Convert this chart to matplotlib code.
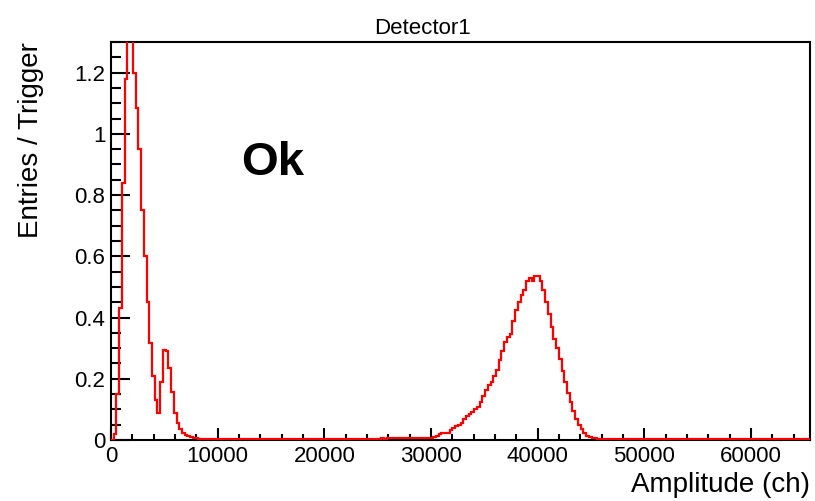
import numpy as np
import matplotlib
matplotlib.use('Agg')
import matplotlib.pyplot as plt
from matplotlib.ticker import MultipleLocator, FuncFormatter

plt.rcParams['font.family'] = ['Liberation Sans', 'DejaVu Sans']

# histogram: 256 bins of 256 channels over 0..65536
bin_width = 256
n_bins = 256

# bins 0-35: pedestal peak + small bump near 5000 ch
left_bins = [0.0, 0.02, 0.15, 0.43, 0.84, 1.18, 1.36, 1.34, 1.2, 1.085,
             0.95, 0.75, 0.6, 0.45, 0.316, 0.21, 0.13, 0.087, 0.19, 0.295,
             0.29, 0.234, 0.158, 0.088, 0.055, 0.035, 0.022, 0.016, 0.012, 0.009,
             0.007, 0.005, 0.004, 0.004, 0.003, 0.003]
# bins 36-112: almost empty region
flat_bins = [0.003, 0.003, 0.002, 0.003, 0.002, 0.002, 0.003, 0.002, 0.002, 0.002, 0.003, 0.002,
             0.002, 0.002, 0.003, 0.002, 0.002, 0.002, 0.002, 0.003, 0.002, 0.002, 0.002, 0.002,
             0.002, 0.003, 0.002, 0.002, 0.003, 0.002, 0.002, 0.002, 0.003, 0.003, 0.002, 0.003,
             0.003, 0.002, 0.003, 0.003, 0.003, 0.002, 0.003, 0.003, 0.003, 0.003, 0.002, 0.003,
             0.003, 0.003, 0.003, 0.003, 0.004, 0.003, 0.003, 0.004, 0.003, 0.004, 0.004, 0.004,
             0.004, 0.004, 0.004, 0.005, 0.004, 0.005, 0.005, 0.005, 0.005,
             0.005, 0.005, 0.006, 0.005, 0.006, 0.006, 0.005, 0.005]
# bins 113-180: signal peak around 40000 ch
peak_bins = [0.005, 0.005, 0.006, 0.007, 0.008, 0.01, 0.012, 0.018, 0.022, 0.022,
             0.024, 0.032, 0.038, 0.045, 0.048, 0.056, 0.068, 0.078, 0.085, 0.09,
             0.1, 0.108, 0.125, 0.145, 0.162, 0.178, 0.19, 0.21, 0.23, 0.26,
             0.29, 0.32, 0.335, 0.345, 0.39, 0.425, 0.45, 0.475, 0.49, 0.52,
             0.53, 0.52, 0.535, 0.535, 0.52, 0.49, 0.45, 0.41, 0.37, 0.33,
             0.3, 0.265, 0.225, 0.19, 0.155, 0.125, 0.095, 0.07, 0.05, 0.035,
             0.022, 0.014, 0.01, 0.007, 0.005, 0.004, 0.003, 0.003]
# bins 181-255
tail_bins = [0.003, 0.003, 0.003, 0.002, 0.003, 0.002, 0.002, 0.003, 0.002, 0.002,
             0.002, 0.002, 0.003, 0.002, 0.002, 0.002, 0.002, 0.002, 0.003, 0.002,
             0.002, 0.002, 0.002, 0.002, 0.002, 0.003, 0.002, 0.002, 0.002, 0.002,
             0.002, 0.002, 0.002, 0.002, 0.002, 0.002, 0.002, 0.002, 0.002, 0.002,
             0.002, 0.002, 0.002, 0.002, 0.002, 0.002, 0.002, 0.002, 0.002, 0.002,
             0.002, 0.002, 0.002, 0.002, 0.002, 0.002, 0.002, 0.002, 0.002, 0.002,
             0.002, 0.002, 0.002, 0.002, 0.002, 0.002, 0.002, 0.002, 0.002, 0.002,
             0.002, 0.002, 0.002, 0.002, 0.002]

counts = np.array(left_bins + flat_bins + peak_bins + tail_bins)
assert len(counts) == n_bins
edges = np.arange(n_bins + 1) * bin_width

fig = plt.figure(figsize=(8.15, 5.01), dpi=100)
ax = fig.add_axes([0.1362, 0.1218, 0.9939 - 0.1362, 0.9162 - 0.1218])

ax.stairs(counts, edges, color='#ff0000', linewidth=1.6, zorder=3)

ax.set_xlim(0, 65536)
ax.set_ylim(0, 1.3)

ax.xaxis.set_major_locator(MultipleLocator(10000))
ax.xaxis.set_minor_locator(MultipleLocator(2000))
ax.yaxis.set_major_locator(MultipleLocator(0.2))
ax.yaxis.set_minor_locator(MultipleLocator(0.05))
ax.yaxis.set_major_formatter(FuncFormatter(lambda v, p: f'{v:g}'))
ax.xaxis.set_major_formatter(FuncFormatter(lambda v, p: f'{v:.0f}'))

ax.tick_params(axis='both', which='both', direction='in', width=1.5,
               top=False, right=False, labelsize=16)
ax.tick_params(axis='y', which='major', length=14, pad=4)
ax.tick_params(axis='y', which='minor', length=7)
ax.tick_params(axis='x', which='major', length=8.5, pad=4)
ax.tick_params(axis='x', which='minor', length=4.3)

for s in ax.spines.values():
    s.set_linewidth(1.5)

ax.set_title('Detector1', fontsize=16, pad=6, x=0.445)
ax.set_xlabel('Amplitude (ch)', fontsize=20, loc='right', labelpad=4)
ax.set_ylabel('Entries / Trigger', fontsize=20, loc='top', labelpad=22)

ax.text(12240, 0.866, 'Ok', fontsize=34, fontweight='bold', ha='left', va='baseline')

fig.savefig('out.png', dpi=100)
